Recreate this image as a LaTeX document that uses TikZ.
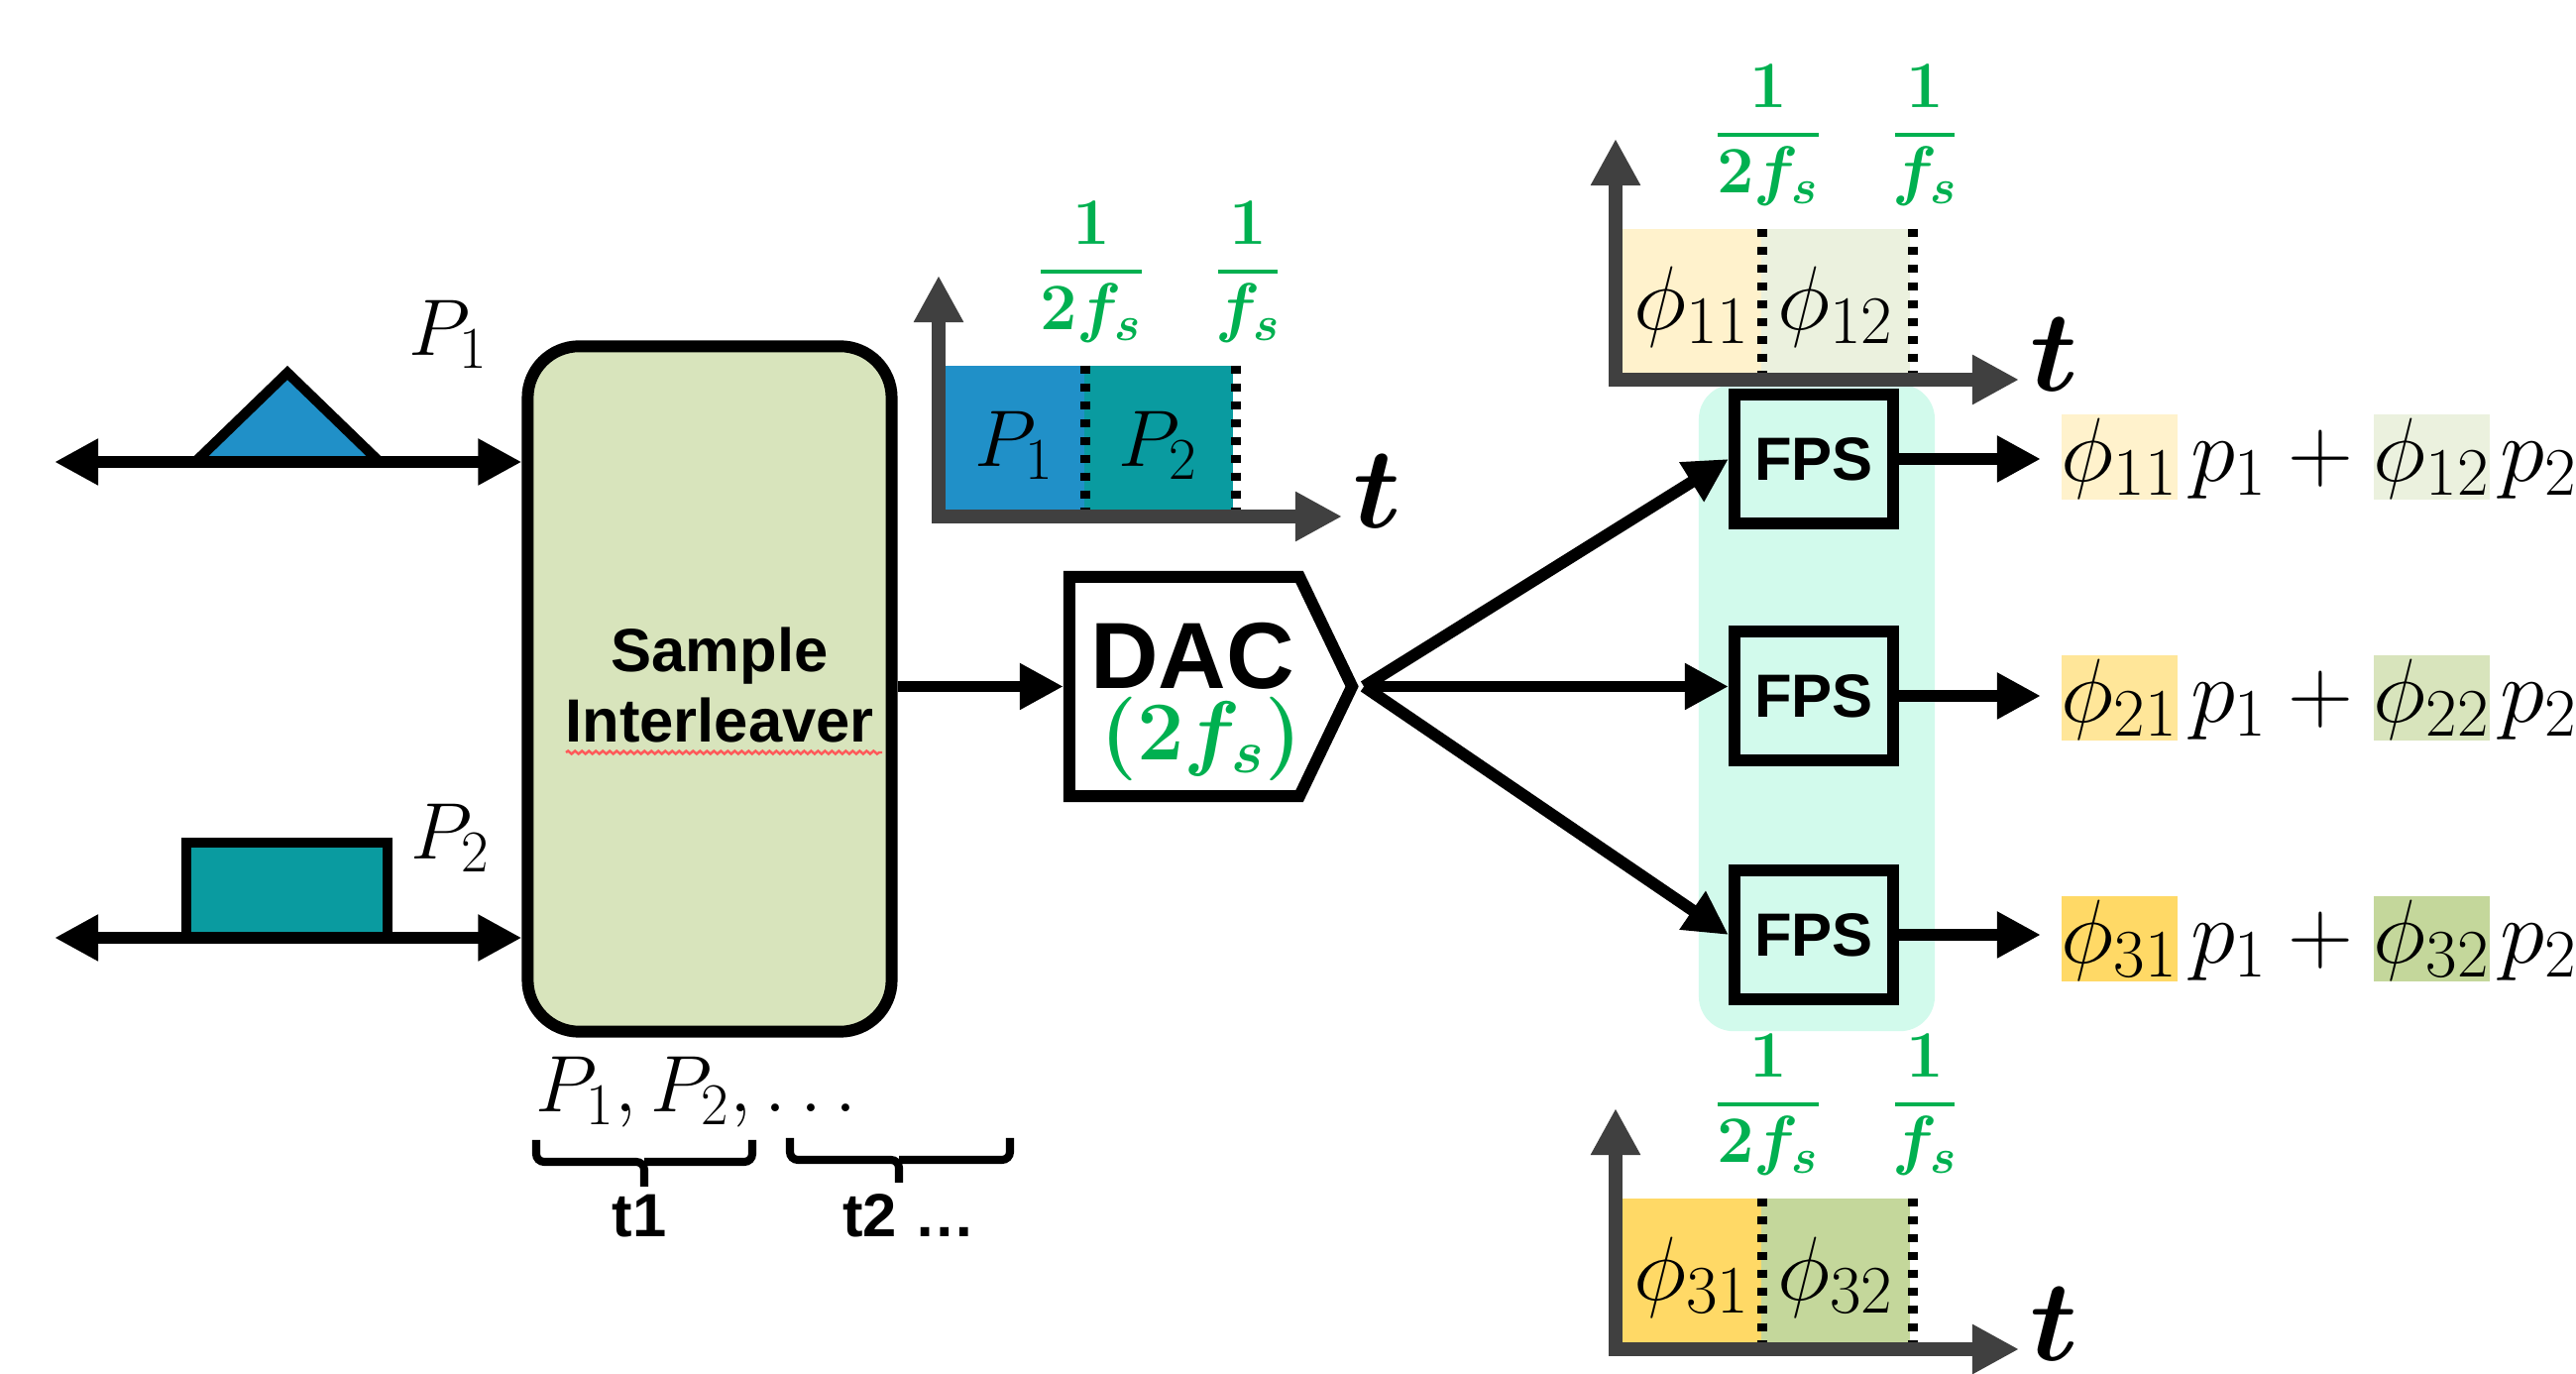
\RequirePackage{fix-cm}
\documentclass[tikz,border=0pt]{standalone}
\usepackage{amsmath}
\usepackage{fontspec}
\newfontfamily\arialfont{Liberation Sans}
\usetikzlibrary{arrows.meta,decorations.pathmorphing}
\DeclareMathSizes{23}{23}{17}{12}
\DeclareMathSizes{26}{26}{19.5}{14}
\DeclareMathSizes{24}{24}{17.5}{13}
\DeclareMathSizes{19}{19}{14}{10}
\definecolor{blk1}{HTML}{2090C8}
\definecolor{blk2}{HTML}{0A9BA0}
\definecolor{ph11}{HTML}{FFF2CC}
\definecolor{ph12}{HTML}{EBF1DE}
\definecolor{ph21}{HTML}{FFE699}
\definecolor{ph22}{HTML}{D8E4BC}
\definecolor{ph31}{HTML}{FFD966}
\definecolor{ph32}{HTML}{C4D79B}
\definecolor{intc}{HTML}{D8E4BC}
\definecolor{grn}{HTML}{00B050}
\definecolor{axgray}{HTML}{404040}
\definecolor{panelc}{HTML}{D2FAEC}
\newcommand\hlbox[2]{{\setlength{\fboxsep}{0pt}\colorbox{#1}{\rule[-0.2em]{0pt}{0.94em}$#2$}}}
\newcommand\mychart[7]{%
\begin{scope}[shift={#2}]
\fill[#3] (7,-7) rectangle (147,-152);
\fill[#4] (147,-7) rectangle (297,-152);
\draw[dotln] (148,-152) -- (148,-7);
\draw[dotln] (300,-152) -- (300,-7);
\draw[axis] (0,7) -- (0,-243);
\draw[axis] (-7,0) -- (407,0);
\node[inner sep=0, anchor=base, font=\fontsize{#7}{#7}\selectfont] (#1a) at (77,-50) {$#5$};
\node[inner sep=0, anchor=base, font=\fontsize{#7}{#7}\selectfont] (#1b) at (222,-50) {$#6$};
\node[fracnum] (#1n1) at (154,-274) {$1$};
\draw[fracbar] (103,-247) -- (205,-247);
\node[fracnum] (#1d1) at (154,-188) {$2f_s$};
\node[fracnum] (#1n2) at (312,-274) {$1$};
\draw[fracbar] (282,-247) -- (342,-247);
\node[fracnum] (#1d2) at (312,-188) {$f_s$};
\node[tlbl] (#1t) at (443,12) {$t$};
\end{scope}}
\begin{document}
\begin{tikzpicture}[x=0.01cm,y=-0.01cm,
  thk/.style={line width=3.4pt},
  arr/.style={line width=3.4pt,-{Triangle[length=0.44cm,width=0.44cm]}},
  darr/.style={line width=3.4pt,{Triangle[length=0.44cm,width=0.44cm]}-{Triangle[length=0.44cm,width=0.44cm]}},
  axis/.style={line width=4pt, draw=axgray, -{Triangle[length=0.47cm,width=0.47cm]}},
  dotln/.style={line width=2.6pt, dash pattern=on 2.3pt off 2.8pt},
  fracnum/.style={inner sep=0, anchor=base, text=grn, font=\fontsize{19}{21}\selectfont\boldmath},
  fracbar/.style={draw=grn, line width=0.9pt},
  tlbl/.style={inner sep=0, anchor=base, font=\fontsize{33}{35}\selectfont\boldmath},
  sanslbl/.style={inner sep=0, font=\arialfont\bfseries\fontsize{17.5}{20.2}\selectfont},
  fps/.style={draw, line width=3.4pt, fill=panelc, minimum width=1.6cm, minimum height=1.3cm, inner sep=0, font=\arialfont\bfseries\fontsize{17.5}{20}\selectfont},
  mlbl/.style={inner sep=0, anchor=base, font=\fontsize{23}{25}\selectfont},
  outexpr/.style={inner sep=0, anchor=base west, font=\fontsize{26}{28}\selectfont},
  brc/.style={line width=2.3pt, rounded corners=0.08cm}]
\useasboundingbox (0,0) rectangle (2599,1386);
\clip (0,0) rectangle (2599,1386);

% background panel behind FPS blocks
\node[fill=panelc, rounded corners=0.35cm, minimum width=2.38cm, minimum height=6.52cm, inner sep=0, outer sep=0] (panel) at (1833,714) {};

% timing charts
\mychart{pc}{(947,521)}{blk1}{blk2}{P_1}{P_2}{23}
\mychart{ta}{(1630,383)}{ph11}{ph12}{\phi_{11}}{\phi_{12}}{26}
\mychart{tb}{(1630,1361)}{ph31}{ph32}{\phi_{31}}{\phi_{32}}{26}

% interleaver
\node[thk, draw, fill=intc, rounded corners=0.52cm, minimum width=3.67cm, minimum height=6.91cm, inner sep=0] (inter) at (716,695) {};
\node[sanslbl, align=center] (intertxt) at (726,691) {Sample\\Interleaver};
\draw[red!65, line width=0.7pt, decorate, decoration={snake, segment length=0.07cm, amplitude=0.015cm}] (571,759) -- (890,759);

% input pulses
\coordinate (in1) at (55,466);
\coordinate (in2) at (55,946);
\draw[line width=2.9pt, fill=blk1, line join=miter] (197,466) -- (290,376) -- (383,466);
\draw[line width=2.9pt, fill=blk2] (188,946) rectangle (391,850);
\draw[darr] (in1) -- (in1 -| inter.west);
\draw[darr] (in2) -- (in2 -| inter.west);
\node[mlbl] (lp1) at (453,359) {$P_1$};
\node[mlbl] (lp2) at (455,867) {$P_2$};

% sequence and braces
\node[mlbl, anchor=base west] (seq) at (540,1122) {$P_1, P_2, \ldots$};
\draw[brc] (541,1150) |- (650,1172) -- (650,1197);
\draw[brc] (759,1150) |- (650,1172);
\draw[brc] (797,1148) |- (907,1170) -- (907,1193);
\draw[brc] (1019,1148) |- (907,1170);
\node[sanslbl, anchor=base] (t1) at (645,1248) {t1};
\node[sanslbl, anchor=base] (t2) at (917,1248) {t2 …};

% DAC
\node[minimum width=2.32cm, minimum height=2.21cm, inner sep=0, outer sep=0] (dac) at (1195,692.5) {};
\draw[thk, line join=miter, fill=white] (dac.north west) -- (dac.north east) -- ([xshift=0.53cm]dac.east) -- (dac.south east) -- (dac.south west) -- cycle;
\node[inner sep=0, anchor=base, font=\arialfont\bfseries\fontsize{27}{30}\selectfont] (dact) at (1203,695) {DAC};
\node[inner sep=0, anchor=base, text=grn, font=\fontsize{24}{26}\selectfont\boldmath] (dacf) at (1212,767) {$(2f_s)$};
\coordinate (dacout) at ([xshift=0.65cm]dac.east);
\draw[arr] (inter.east |- dac.west) -- ([xshift=-0.06cm]dac.west);

% FPS blocks
\node[fps] (f1) at (1830,463) {FPS};
\node[fps] (f2) at (1830,702) {FPS};
\node[fps] (f3) at (1830,943) {FPS};
\draw[arr] (dacout) -- (f1.west);
\draw[arr] (dacout) -- (dacout -| f2.west);
\draw[arr] (dacout) -- (f3.west);

% outputs
\coordinate (otip) at (2059,0);
\draw[arr] (f1.east) -- (f1.east -| otip);
\draw[arr] (f2.east) -- (f2.east -| otip);
\draw[arr] (f3.east) -- (f3.east -| otip);
\node[outexpr] (o1) at (2079,486) {\hlbox{ph11}{\phi_{11}}$\mkern2.5mu p_1+{}$\hlbox{ph12}{\phi_{12}}$\mkern2mu p_2$};
\node[outexpr] (o2) at (2079,729) {\hlbox{ph21}{\phi_{21}}$\mkern2.5mu p_1+{}$\hlbox{ph22}{\phi_{22}}$\mkern2mu p_2$};
\node[outexpr] (o3) at (2079,972) {\hlbox{ph31}{\phi_{31}}$\mkern2.5mu p_1+{}$\hlbox{ph32}{\phi_{32}}$\mkern2mu p_2$};
\end{tikzpicture}
\end{document}
